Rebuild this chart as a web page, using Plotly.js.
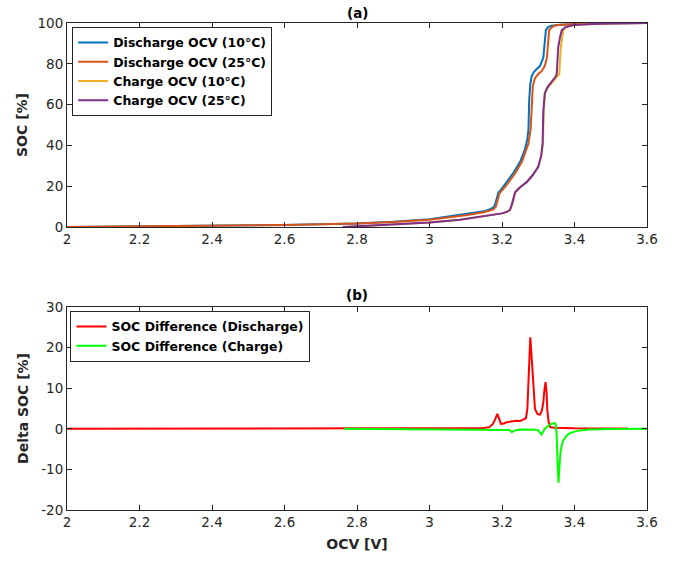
<!DOCTYPE html>
<html>
<head>
<meta charset="utf-8">
<script src="https://cdn.plot.ly/plotly-3.0.1.min.js"></script>
<style>html,body{margin:0;padding:0;background:#fff;}#chart{width:686px;height:562px;}</style>
</head>
<body>
<div id="chart"></div>
<script>
// Discharge OCV (10°C)
const dis10V = [2.0, 2.2, 2.4, 2.6, 2.8, 2.9, 3.0, 3.05, 3.1, 3.15, 3.167, 3.176, 3.181, 3.186, 3.19, 3.2, 3.215, 3.231, 3.25, 3.263, 3.27, 3.273, 3.275, 3.278, 3.282, 3.288, 3.296, 3.305, 3.314, 3.318, 3.321, 3.327, 3.337, 3.36, 3.39, 3.45, 3.5, 3.6];
const dis10S = [0, 0.3, 0.6, 1.0, 1.8, 2.6, 3.8, 5.0, 6.2, 7.7, 8.7, 9.6, 11, 15, 16.8, 19, 22.5, 26.5, 32, 38, 43, 48, 62, 70, 74, 76, 77.5, 79, 83, 90, 96.5, 98, 98.7, 99.1, 99.4, 99.7, 99.85, 100];
// Discharge OCV (25°C)
const dis25V = [2.0, 2.2, 2.4, 2.6, 2.8, 2.9, 3.0, 3.05, 3.1, 3.15, 3.175, 3.183, 3.188, 3.193, 3.21, 3.235, 3.255, 3.273, 3.279, 3.282, 3.285, 3.291, 3.3, 3.31, 3.318, 3.324, 3.327, 3.33, 3.34, 3.35, 3.37, 3.4, 3.45, 3.5, 3.6];
const dis25S = [0, 0.3, 0.6, 1.0, 1.8, 2.5, 3.6, 4.6, 5.8, 7.3, 8.5, 10, 14, 16.5, 20, 26, 32, 41, 48, 60, 69, 73, 75, 76.5, 79, 83, 90, 96.5, 98.3, 98.9, 99.3, 99.5, 99.7, 99.85, 100];
// Charge OCV (10°C)
const chg10V = [2.761, 2.8, 2.9, 3.0, 3.084, 3.15, 3.2, 3.214, 3.223, 3.228, 3.233, 3.237, 3.25, 3.268, 3.285, 3.3, 3.309, 3.313, 3.315, 3.319, 3.327, 3.34, 3.352, 3.358, 3.362, 3.366, 3.369, 3.378, 3.4, 3.45, 3.5, 3.6];
const chg10S = [0, 0.4, 1.4, 2.2, 3.6, 5.2, 6.7, 7.4, 8.5, 11, 15, 17, 19.5, 22, 25.5, 29.5, 35, 41, 57, 65.6, 68.5, 71, 73.5, 75, 88, 93, 96.5, 98, 99, 99.5, 99.8, 100];
// Charge OCV (25°C)
const chg25V = [2.761, 2.8, 2.9, 3.0, 3.084, 3.15, 3.2, 3.213, 3.222, 3.227, 3.232, 3.236, 3.25, 3.268, 3.285, 3.3, 3.308, 3.312, 3.314, 3.318, 3.325, 3.337, 3.347, 3.351, 3.355, 3.36, 3.365, 3.375, 3.397, 3.45, 3.5, 3.6];
const chg25S = [0, 0.4, 1.4, 2.2, 3.6, 5.2, 6.7, 7.4, 8.5, 11, 15, 17, 19.5, 22, 25.5, 29.5, 35, 41, 57, 65.6, 68.5, 71, 73.5, 75, 88, 93, 96.5, 98, 99, 99.5, 99.8, 100];
// SOC Difference (Discharge)
const diffDisV = [2.0, 2.5, 2.8, 3.0, 3.15, 3.165, 3.175, 3.182, 3.187, 3.192, 3.197, 3.205, 3.213, 3.225, 3.24, 3.25, 3.258, 3.266, 3.27, 3.273, 3.276, 3.278, 3.28, 3.284, 3.288, 3.291, 3.298, 3.305, 3.31, 3.314, 3.317, 3.32, 3.323, 3.325, 3.329, 3.333, 3.345, 3.36, 3.4, 3.5, 3.548];
const diffDisS = [0, 0.05, 0.1, 0.15, 0.2, 0.4, 1.2, 2.5, 3.7, 2.5, 1.2, 1.3, 1.6, 1.8, 2.0, 1.9, 2.2, 2.6, 5, 13.5, 20, 22.5, 20, 13.5, 7.5, 4.9, 3.6, 3.5, 4.5, 6.5, 9.5, 11.5, 9, 4.5, 1.5, 0.4, 0.25, 0.16, 0.1, 0.05, 0.05];
// SOC Difference (Charge)
const diffChgV = [2.765, 2.9, 3.0, 3.1, 3.2, 3.22, 3.227, 3.236, 3.25, 3.28, 3.291, 3.3, 3.305, 3.309, 3.313, 3.318, 3.325, 3.333, 3.34, 3.346, 3.349, 3.351, 3.353, 3.356, 3.358, 3.361, 3.365, 3.369, 3.378, 3.387, 3.4, 3.414, 3.44, 3.46, 3.5, 3.6];
const diffChgS = [0, -0.05, -0.1, -0.1, -0.15, -0.3, -0.8, -0.4, -0.2, -0.2, -0.25, -0.4, -0.9, -1.4, -0.8, 0, 0.5, 1.1, 1.3, 1.4, 0.8, -2, -8, -13.3, -10, -6.1, -4, -2.9, -1.7, -1.1, -0.7, -0.4, -0.2, -0.1, -0.05, 0];

const xTicks = [2, 2.2, 2.4, 2.6, 2.8, 3, 3.2, 3.4, 3.6];
const xTickText = ['2', '2.2', '2.4', '2.6', '2.8', '3', '3.2', '3.4', '3.6'];
const yTicksTop = [0, 20, 40, 60, 80, 100];
const yTicksBot = [-20, -10, 0, 10, 20, 30];
const yTickTextBot = ['-20', '-10', '0', '10', '20', '30'];

const FONT = 'DejaVu Sans, Liberation Sans, Arial, sans-serif';
const AX = '#262626';

const traces = [
  {x: dis10V, y: dis10S, name: 'Discharge OCV (10°C)', mode: 'lines', line: {color: '#0072BD', width: 2}, xaxis: 'x', yaxis: 'y', legend: 'legend'},
  {x: dis25V, y: dis25S, name: 'Discharge OCV (25°C)', mode: 'lines', line: {color: '#D95319', width: 2}, xaxis: 'x', yaxis: 'y', legend: 'legend'},
  {x: chg10V, y: chg10S, name: 'Charge OCV (10°C)', mode: 'lines', line: {color: '#EDB120', width: 2}, xaxis: 'x', yaxis: 'y', legend: 'legend'},
  {x: chg25V, y: chg25S, name: 'Charge OCV (25°C)', mode: 'lines', line: {color: '#7E2F8E', width: 2}, xaxis: 'x', yaxis: 'y', legend: 'legend'},
  {x: diffDisV, y: diffDisS, name: 'SOC Difference (Discharge)', mode: 'lines', line: {color: '#FF0000', width: 2}, xaxis: 'x2', yaxis: 'y2', legend: 'legend2'},
  {x: diffChgV, y: diffChgS, name: 'SOC Difference (Charge)', mode: 'lines', line: {color: '#00FF00', width: 2}, xaxis: 'x2', yaxis: 'y2', legend: 'legend2'}
];

function axis(extra) {
  return Object.assign({
    showline: true, mirror: 'ticks', linecolor: AX, linewidth: 1,
    ticks: 'inside', ticklen: 5, tickcolor: AX, tickwidth: 1,
    showgrid: false, zeroline: false,
    tickfont: {family: FONT, size: 13.5, color: AX}
  }, extra);
}

const legendStyle = {
  bgcolor: '#ffffff', bordercolor: AX, borderwidth: 1,
  font: {family: FONT, size: 12.5, color: '#000', weight: 'bold'},
  xanchor: 'left', yanchor: 'top', tracegroupgap: 0
};

const titleFont = {family: FONT, size: 14, color: AX, weight: 'bold'};

const layout = {
  width: 686, height: 562,
  margin: {l: 67, r: 39, t: 23, b: 52},
  paper_bgcolor: '#ffffff', plot_bgcolor: '#ffffff',
  showlegend: true,
  xaxis: axis({domain: [0, 1], anchor: 'y', range: [2, 3.6], tickvals: xTicks, ticktext: xTickText}),
  yaxis: axis({domain: [0.581, 1], anchor: 'x', range: [0, 100], tickvals: yTicksTop,
    title: {text: 'SOC [%]', font: titleFont, standoff: 6}}),
  xaxis2: axis({domain: [0, 1], anchor: 'y2', range: [2, 3.6], tickvals: xTicks, ticktext: xTickText,
    title: {text: 'OCV [V]', font: titleFont, standoff: 9}}),
  yaxis2: axis({domain: [0, 0.417], anchor: 'x2', range: [-20, 30], tickvals: yTicksBot, ticktext: yTickTextBot,
    title: {text: 'Delta SOC [%]', font: titleFont, standoff: 9}}),
  legend: Object.assign({x: 0.009, y: 0.992}, legendStyle),
  legend2: Object.assign({x: 0.006, y: 0.409}, legendStyle),
  annotations: [
    {text: '(a)', xref: 'paper', yref: 'paper', x: 0.5, y: 1.02, xanchor: 'center', yanchor: 'middle', showarrow: false,
     font: {family: FONT, size: 13.5, color: '#000', weight: 'bold'}},
    {text: '(b)', xref: 'paper', yref: 'paper', x: 0.5, y: 0.4415, xanchor: 'center', yanchor: 'middle', showarrow: false,
     font: {family: FONT, size: 13.5, color: '#000', weight: 'bold'}}
  ]
};

Plotly.newPlot('chart', traces, layout, {displayModeBar: false, staticPlot: true});
</script>
</body>
</html>
